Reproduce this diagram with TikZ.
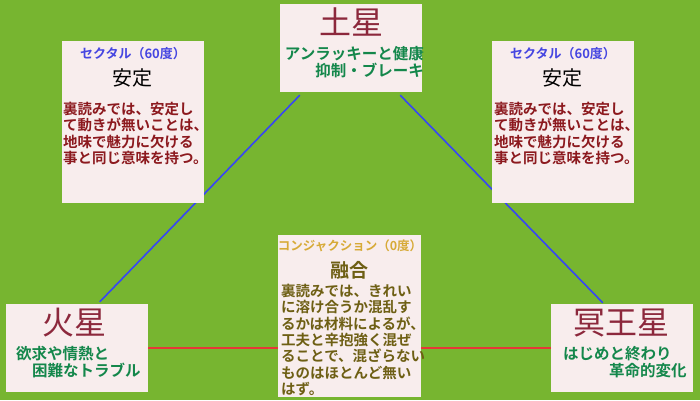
\documentclass[tikz,border=0pt]{standalone}
\usepackage{fontspec}
\setmainfont{Noto Sans CJK JP}[BoldFont={Noto Sans CJK JP Bold}]
\usepackage{tikz}
\usetikzlibrary{positioning}
\definecolor{GreenBack}{RGB}{119,181,48}
\definecolor{BoxPink}{RGB}{248,237,237}
\definecolor{PlanetRed}{RGB}{140,40,60}
\definecolor{TextGreen}{RGB}{20,135,75}
\definecolor{AspectBlue}{RGB}{70,70,225}
\definecolor{BodyRed}{RGB}{140,25,30}
\definecolor{ConjGold}{RGB}{215,170,55}
\definecolor{ConjOlive}{RGB}{110,95,20}
\definecolor{LineBlue}{RGB}{55,70,245}
\definecolor{LineRed}{RGB}{230,55,55}
\pgfdeclarelayer{background}
\pgfsetlayers{background,main}
\tikzset{
  box/.style={fill=BoxPink,inner sep=0pt,minimum width=142pt},
  planetbox/.style={box,minimum height=88pt},
  aspectbox/.style={box,minimum height=162pt},
  planetname/.style={text=PlanetRed,inner sep=0pt,font=\fontsize{32}{34}\selectfont},
  keyword/.style={text=TextGreen,inner sep=0pt,font=\bfseries\fontsize{15.5}{17}\selectfont},
  aspecthead/.style={inner sep=0pt,font=\bfseries\fontsize{13}{15}\selectfont},
  aspectname/.style={inner sep=0pt,font=\fontsize{20}{22}\selectfont},
  bodytext/.style={inner sep=0pt,align=left,font=\bfseries\fontsize{14.5}{16.3}\selectfont},
}
\begin{document}
\begin{tikzpicture}[x=1pt,y=-1pt]
  \useasboundingbox (0,0) rectangle (700,400);

  % planets
  \node[planetbox] (saturn) at (351,48) {};
  \node[planetbox] (mars) at (77,348) {};
  \node[planetbox] (pluto) at (622,348) {};

  \node[planetname] (saturnName) at (351,22) {土星};
  \node[keyword,align=right,anchor=north east] (saturnText) at (424,46)
    {アンラッキーと健康\\抑制・ブレーキ};

  \node[planetname] (marsName) at (74,323) {火星};
  \node[keyword,align=left,anchor=north west] (marsText) at (16,346)
    {欲求や情熱と\\\hspace{16pt}困難なトラブル};

  \node[planetname] (plutoName) at (621,323) {冥王星};
  \node[keyword,align=left,anchor=north west] (plutoText) at (563,346)
    {はじめと終わり\\\hspace{46pt}革命的変化};

  % aspects
  \node[aspectbox] (sextileL) at (132.5,122) {};
  \node[aspectbox] (sextileR) at (563,122) {};
  \node[aspectbox,minimum width=143pt] (conj) at (349.5,316) {};

  \node[aspecthead,text=AspectBlue] (sextileLHead) at (133,54) {セクタル（60度）};
  \node[aspectname] (sextileLName) at (132,78) {安定};
  \node[bodytext,text=BodyRed,anchor=north west] (sextileLText) at (63,102)
    {裏読みでは、安定し\\て動きが無いことは、\\地味で魅力に欠ける\\事と同じ意味を持つ。};

  \node[aspecthead,text=AspectBlue] (sextileRHead) at (563,54) {セクタル（60度）};
  \node[aspectname] (sextileRName) at (562,78) {安定};
  \node[bodytext,text=BodyRed,anchor=north west] (sextileRText) at (494,102)
    {裏読みでは、安定し\\て動きが無いことは、\\地味で魅力に欠ける\\事と同じ意味を持つ。};

  \node[aspecthead,text=ConjGold,font=\bfseries\fontsize{12.5}{15}\selectfont] (conjHead) at (350,246) {コンジャクション（0度）};
  \node[aspectname,text=ConjOlive,font=\bfseries\fontsize{19}{21}\selectfont] (conjName) at (349,270) {融合};
  \node[bodytext,text=ConjOlive,anchor=north west] (conjText) at (281,284)
    {裏読みでは、きれい\\に溶け合うか混乱す\\るかは材料によるが、\\工夫と辛抱強く混ぜ\\ることで、混ざらない\\ものはほとんど無い\\はず。};

  \begin{pgfonlayer}{background}
    \fill[GreenBack] (0,0) rectangle (700,400);
    \draw[LineBlue,line width=1.6pt] ([xshift=20pt,yshift=-3pt]saturn.south west)
      -- ([xshift=94pt,yshift=2pt]mars.north west);
    \draw[LineBlue,line width=1.6pt] ([xshift=-22pt,yshift=-3pt]saturn.south east)
      -- ([xshift=52pt,yshift=1pt]pluto.north west);
    \draw[LineRed,line width=1.2pt] (mars.east) -- (pluto.west);
  \end{pgfonlayer}
\end{tikzpicture}
\end{document}
